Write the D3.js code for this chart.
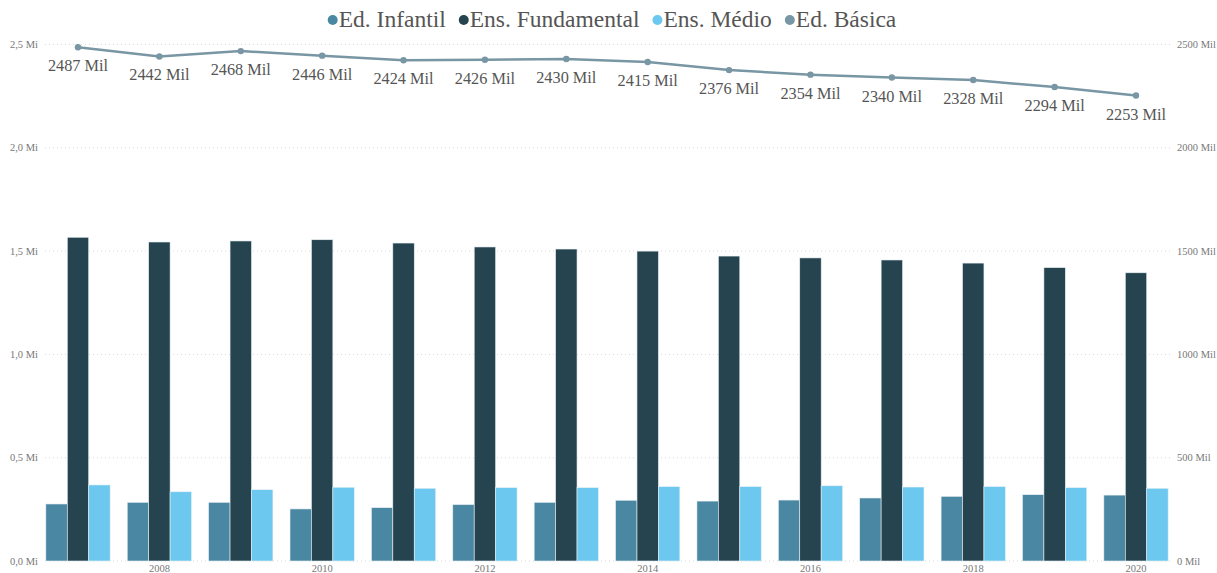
<!DOCTYPE html>
<html><head><meta charset="utf-8">
<script src="https://cdn.jsdelivr.net/npm/d3@7"></script>
<style>body{margin:0;background:#fff;}svg{display:block;} text{font-family:"Liberation Serif","Times New Roman",serif;}</style>
</head><body>
<svg id="c" width="1217" height="573"></svg>
<script>
const years = [2007,2008,2009,2010,2011,2012,2013,2014,2015,2016,2017,2018,2019,2020];
const infantil = [0.276,0.284,0.284,0.252,0.258,0.273,0.284,0.294,0.290,0.295,0.305,0.313,0.321,0.319];
const fundamental = [1.567,1.544,1.549,1.555,1.539,1.520,1.510,1.500,1.476,1.467,1.457,1.442,1.420,1.395];
const medio = [0.368,0.335,0.345,0.357,0.352,0.355,0.355,0.360,0.360,0.364,0.358,0.360,0.355,0.352];
const basica = [2487,2442,2468,2446,2424,2426,2430,2415,2376,2354,2340,2328,2294,2253];
const seriesNames = ["Ed. Infantil","Ens. Fundamental","Ens. Médio","Ed. Básica"];
const leftTicks = [0,0.5,1.0,1.5,2.0,2.5];
const rightTicks = [0,500,1000,1500,2000,2500];
const xTickYears = [2008,2010,2012,2014,2016,2018,2020];

const colors = {"Ed. Infantil":"#4a87a2","Ens. Fundamental":"#25444f","Ens. Médio":"#6cc8ee","Ed. Básica":"#7896a3"};

const svg = d3.select("#c");
const yL = d3.scaleLinear().domain([0,2.5]).range([561,44.5]);
const yR = d3.scaleLinear().domain([0,2500]).range([561,44.5]);
const x0 = d3.scaleBand().domain(years).range([37.3,1176.7]).paddingInner(0.21).paddingOuter(0.105);
const barSeries = [["Ed. Infantil",infantil],["Ens. Fundamental",fundamental],["Ens. Médio",medio]];
const x1 = d3.scaleBand().domain(barSeries.map(d=>d[0])).range([0,x0.bandwidth()]);

// gridlines
svg.append("g").selectAll("line").data(leftTicks).join("line")
  .attr("x1",45).attr("x2",1170).attr("y1",d=>yL(d)).attr("y2",d=>yL(d))
  .attr("stroke","#d9d9d9").attr("stroke-width",1).attr("stroke-dasharray","1,3");

// left axis labels
svg.append("g").selectAll("text").data(leftTicks).join("text")
  .attr("x",38).attr("y",d=>yL(d)+3.5).attr("text-anchor","end")
  .attr("font-size",10.5).attr("fill","#777")
  .text(d=>d3.format(".1f")(d).replace(".",",")+" Mi");
// right axis labels
svg.append("g").selectAll("text").data(rightTicks).join("text")
  .attr("x",1177).attr("y",d=>yR(d)+3.5).attr("text-anchor","start")
  .attr("font-size",10.5).attr("fill","#777")
  .text(d=>d+" Mil");
// x labels
svg.append("g").selectAll("text").data(xTickYears).join("text")
  .attr("x",d=>x0(d)+x0.bandwidth()/2).attr("y",572).attr("text-anchor","middle")
  .attr("font-size",10.5).attr("fill","#777")
  .text(d=>d);

// bars
const gBars = svg.append("g");
barSeries.forEach(([name,vals])=>{
  gBars.append("g").selectAll("rect").data(vals).join("rect")
    .attr("x",(d,i)=>x0(years[i])+x1(name))
    .attr("width",x1.bandwidth())
    .attr("y",d=>yL(d))
    .attr("height",d=>yL(0)-yL(d))
    .attr("fill",colors[name])
    .attr("stroke","#e8f0f4").attr("stroke-width",0.6);
});

// line
const cx = (d,i)=>x0(years[i])+x0.bandwidth()/2;
const line = d3.line().x((d,i)=>cx(d,i)).y(d=>yR(d));
svg.append("path").datum(basica).attr("d",line).attr("fill","none")
  .attr("stroke",colors["Ed. Básica"]).attr("stroke-width",2.5);
svg.append("g").selectAll("circle").data(basica).join("circle")
  .attr("cx",cx).attr("cy",d=>yR(d)).attr("r",3.2).attr("fill",colors["Ed. Básica"]);
svg.append("g").selectAll("text").data(basica).join("text")
  .attr("x",cx).attr("y",d=>yR(d)+24).attr("text-anchor","middle")
  .attr("font-size",16.3).attr("fill","#555")
  .text(d=>d+" Mil");

// legend
const leg = svg.append("g");
let xpos = 0;
seriesNames.forEach(name=>{
  const g = leg.append("g").attr("transform",`translate(${xpos},0)`);
  g.append("circle").attr("cx",5).attr("cy",20).attr("r",5).attr("fill",colors[name]);
  const t = g.append("text").attr("x",11).attr("y",27)
    .attr("font-size",23.5).attr("fill","#555").text(name);
  xpos += 11 + t.node().getComputedTextLength() + 13;
});
const totalW = xpos - 13;
leg.attr("transform",`translate(${612 - totalW/2},0)`);
</script>
</body></html>
